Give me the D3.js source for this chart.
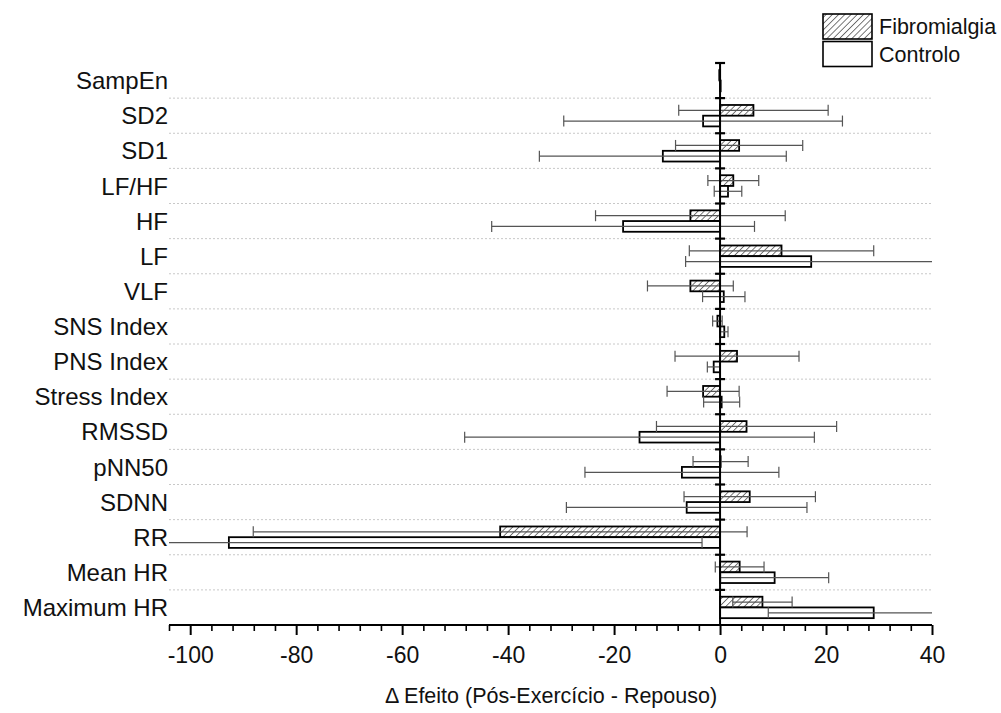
<!DOCTYPE html>
<html>
<head>
<meta charset="utf-8">
<script src="https://cdn.jsdelivr.net/npm/d3@7"></script>
<style>
  html, body { margin: 0; padding: 0; background: #fff; }
  svg { display: block; font-family: "Liberation Sans", Arial, sans-serif; }
</style>
</head>
<body>
<svg id="chart" width="1001" height="713"></svg>
<script>
// ---- data ----
const categories = ["SampEn","SD2","SD1","LF/HF","HF","LF","VLF","SNS Index","PNS Index","Stress Index","RMSSD","pNN50","SDNN","RR","Mean HR","Maximum HR"];
const fibroMean = [-0.1, 6.3, 3.6, 2.5, -5.6, 11.6, -5.6, -0.5, 3.2, -3.2, 5.0, 0.1, 5.6, -41.5, 3.7, 8.0];
const fibroSD   = [0.15, 14.1, 12.0, 4.8, 17.9, 17.4, 8.1, 0.9, 11.7, 6.8, 17.0, 5.2, 12.4, 46.6, 4.6, 5.6];
const ctrlMean  = [0.0, -3.2, -10.8, 1.5, -18.3, 17.2, 0.7, 0.8, -1.2, 0.3, -15.2, -7.2, -6.3, -92.7, 10.3, 29.0];
const ctrlSD    = [0.05, 26.3, 23.3, 2.6, 24.8, 23.7, 4.0, 0.7, 1.2, 3.4, 33.0, 18.3, 22.7, 89.3, 10.2, 19.9];
const seriesNames = ["Fibromialgia", "Controlo"];
const majorTicks = [-100, -80, -60, -40, -20, 0, 20, 40];
const xTitle = "Δ Efeito (Pós-Exercício - Repouso)";

// ---- scales ----
const svg = d3.select("#chart");
const x = d3.scaleLinear().domain([-104, 40]).range([169, 932]);
const y = d3.scaleBand().domain(categories).range([63, 625]).padding(0);
const barH = y.bandwidth() * 0.305;

// hatch pattern
const defs = svg.append("defs");
defs.append("pattern")
  .attr("id", "hatch").attr("patternUnits", "userSpaceOnUse")
  .attr("width", 4.4).attr("height", 4.4)
  .attr("patternTransform", "rotate(45)")
  .append("line").attr("x1", 0).attr("y1", 0).attr("x2", 0).attr("y2", 4.4)
  .attr("stroke", "#333").attr("stroke-width", 1.3);

// gridlines (dotted) at band boundaries
const bounds = categories.slice(1).map(c => y(c));
svg.append("g").selectAll("line").data(bounds).join("line")
  .attr("x1", x.range()[0]).attr("x2", x.range()[1])
  .attr("y1", d => d).attr("y2", d => d)
  .attr("stroke", "#c8c8c8").attr("stroke-width", 1).attr("stroke-dasharray", "2,2");

// category labels
svg.append("g").selectAll("text").data(categories).join("text")
  .attr("x", 168).attr("y", d => y(d) + y.bandwidth() / 2)
  .attr("dy", "0.36em").attr("text-anchor", "end")
  .attr("font-size", 24).attr("fill", "#111").text(d => d);

// bars
const rows = [];
categories.forEach((c, i) => {
  rows.push({ cat: c, s: 0, mean: fibroMean[i], sd: fibroSD[i] });
  rows.push({ cat: c, s: 1, mean: ctrlMean[i], sd: ctrlSD[i] });
});
const barY = d => y(d.cat) + y.bandwidth() / 2 - barH + d.s * barH;

svg.append("g").selectAll("rect").data(rows).join("rect")
  .attr("x", d => Math.min(x(0), x(d.mean)))
  .attr("y", barY)
  .attr("width", d => Math.max(0.6, Math.abs(x(d.mean) - x(0))))
  .attr("height", barH)
  .attr("fill", d => d.s === 0 ? "url(#hatch)" : "#fff")
  .attr("stroke", "#000").attr("stroke-width", 1.8);

// error bars
const [dMin, dMax] = x.domain();
const eg = svg.append("g").attr("stroke", "#555").attr("stroke-width", 1.2);
rows.forEach(d => {
  const cy = barY(d) + barH / 2;
  const lo = d.mean - d.sd, hi = d.mean + d.sd;
  const loC = Math.max(lo, dMin), hiC = Math.min(hi, dMax);
  eg.append("line").attr("x1", x(loC)).attr("x2", x(hiC)).attr("y1", cy).attr("y2", cy);
  if (lo >= dMin) eg.append("line").attr("x1", x(lo)).attr("x2", x(lo)).attr("y1", cy - 5.5).attr("y2", cy + 5.5);
  if (hi <= dMax) eg.append("line").attr("x1", x(hi)).attr("x2", x(hi)).attr("y1", cy - 5.5).attr("y2", cy + 5.5);
});

// y axis line and ticks
const x0 = x(0);
svg.append("line").attr("x1", x0).attr("x2", x0).attr("y1", y.range()[0]).attr("y2", y.range()[1])
  .attr("stroke", "#000").attr("stroke-width", 2);
svg.append("g").selectAll("line").data([y.range()[0]].concat(bounds)).join("line")
  .attr("x1", x0 - 5).attr("x2", x0 + 5).attr("y1", d => d).attr("y2", d => d)
  .attr("stroke", "#000").attr("stroke-width", 2.2);

// x axis
const xAxisY = y.range()[1];
const minorTicks = d3.range(-104, 40.01, 4).filter(v => !majorTicks.includes(v));
const gx = svg.append("g").attr("transform", `translate(0,${xAxisY})`);
gx.append("g").call(d3.axisBottom(x).tickValues(minorTicks).tickSize(6).tickSizeOuter(0).tickFormat(""))
  .call(g => g.select(".domain").remove())
  .call(g => g.selectAll("line").attr("stroke", "#000").attr("stroke-width", 1.6));
gx.append("g").call(d3.axisBottom(x).tickValues(majorTicks).tickSize(10).tickSizeOuter(0).tickPadding(12).tickFormat(d3.format("d")))
  .call(g => g.select(".domain").attr("stroke", "#000").attr("stroke-width", 2).attr("d", `M${x.range()[0]},0H${x.range()[1]}`))
  .call(g => g.selectAll("line").attr("stroke", "#000").attr("stroke-width", 2))
  .call(g => g.selectAll("text").attr("font-size", 23).attr("fill", "#111")
    .attr("font-family", '"Liberation Sans", Arial, sans-serif').text(d => d < 0 ? "-" + Math.abs(d) : d));

// x title
svg.append("text").attr("x", 551).attr("y", 703).attr("text-anchor", "middle")
  .attr("font-size", 21.5).attr("fill", "#111").text(xTitle);

// legend
const lg = svg.append("g");
seriesNames.forEach((n, i) => {
  lg.append("rect").attr("x", 823).attr("y", 14 + i * 27.5).attr("width", 49).attr("height", 25)
    .attr("fill", i === 0 ? "url(#hatch)" : "#fff").attr("stroke", "#000").attr("stroke-width", 1.6);
  lg.append("text").attr("x", 879).attr("y", 34 + i * 27.5).attr("font-size", 21.5).attr("fill", "#111").text(n);
});
</script>
</body>
</html>
